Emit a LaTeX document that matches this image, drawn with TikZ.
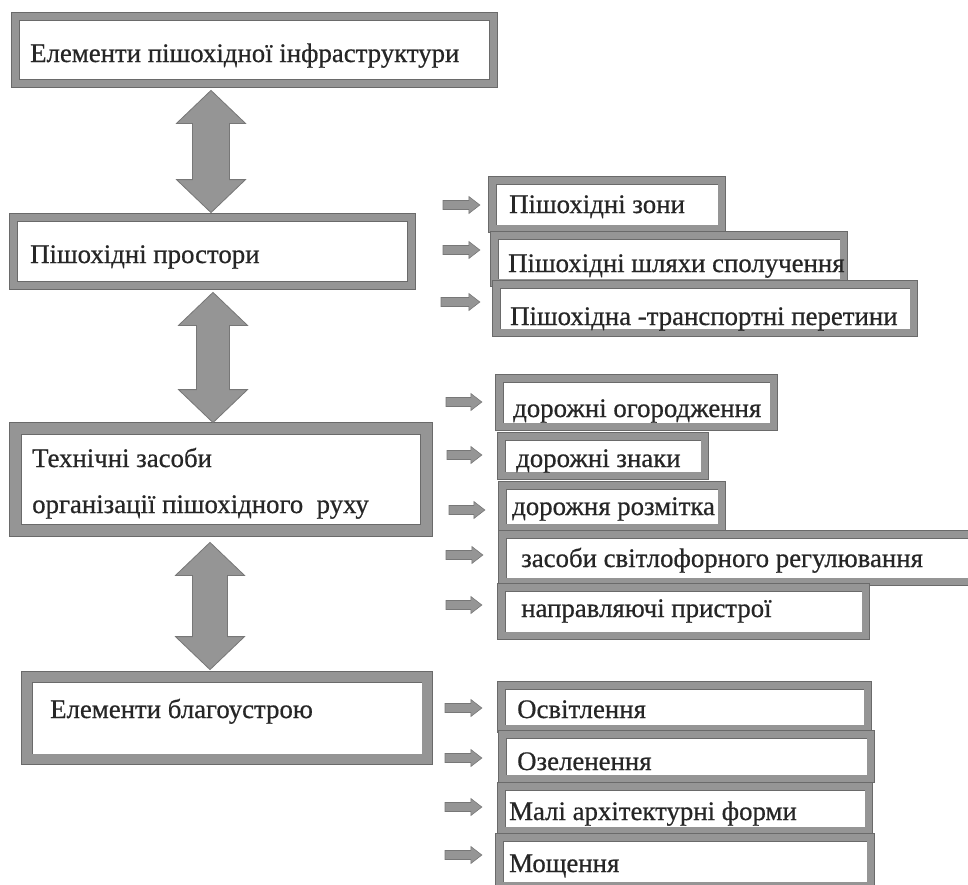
\documentclass[tikz,border=0pt]{standalone}
\usepackage{fontspec}
\setmainfont{Liberation Serif}[FakeBold=0.6]
\usetikzlibrary{calc}
\definecolor{framec}{HTML}{959595}
\definecolor{edgec}{HTML}{6A6A6A}
\definecolor{arrc}{HTML}{959595}
\definecolor{arredge}{HTML}{777777}
\newcommand\fs{\fontsize{26.8pt}{31pt}\selectfont}
\tikzset{
  mainbox/.style={draw=edgec, line width=0.8pt, double=framec, double distance=#1, fill=white, inner sep=0pt, rectangle},
  subbox/.style={draw=edgec, line width=0.8pt, double=framec, double distance=6.9pt, fill=white, inner sep=0pt, rectangle},
  lbl/.style={anchor=base west, inner sep=0pt, font=\fs, text=black!85},
  bigarr/.style={fill=arrc, draw=arredge, line width=0.8pt, line join=miter},
  smallarr/.style={fill=arrc, draw=arredge, line width=0.6pt, line join=miter}
}
% double arrow between two anchors: #1 x, #2 top anchor, #3 bottom anchor, #4 top offset, #5 bottom offset, #6 shaft half width
\newcommand\dblarr[6]{%
  \path[bigarr] let \p1=#2, \p2=#3, \p3=(#1,\y1-#4), \p4=(#1,\y2+#5) in
    (\x3,\y3) -- ({\x3+34.5pt},{\y3-33pt}) -- ({\x3+#6},{\y3-33pt}) -- ({\x3+#6},{\y4+33pt})
    -- ({\x3+34.5pt},{\y4+33pt}) -- (\x4,\y4) -- ({\x3-34.5pt},{\y4+33pt}) -- ({\x3-#6},{\y4+33pt})
    -- ({\x3-#6},{\y3-33pt}) -- ({\x3-34.5pt},{\y3-33pt}) -- cycle;}
% small block arrow from named tail coordinate to named tip coordinate
\newcommand\smarr[2]{%
  \path[smallarr] let \p1=(#1), \p2=(#2) in
    (\x1,{\y1+4.5pt}) -- ({\x2-11pt},{\y1+4.5pt}) -- ({\x2-11pt},{\y1+8.5pt}) -- (\x2,\y1)
    -- ({\x2-11pt},{\y1-8.5pt}) -- ({\x2-11pt},{\y1-4.5pt}) -- (\x1,{\y1-4.5pt}) -- cycle;}
\begin{document}
\begin{tikzpicture}[x=1pt,y=1pt]
\useasboundingbox (0,0) rectangle (968,-884);
\clip (0,0) rectangle (968,-884);
\fill[white] (0,0) rectangle (968,-884);

% main column
\node[mainbox=7.4pt, minimum width=478pt, minimum height=67pt] (b1) at (254.5,-50) {};
\node[lbl] (t1) at (30,-62) {Елементи пішохідної інфраструктури};
\node[mainbox=7.4pt, minimum width=398pt, minimum height=68pt] (b2) at (212.5,-251.5) {};
\node[lbl] (t2) at (30,-263) {Пішохідні простори};
\node[mainbox=11.4pt, minimum width=411pt, minimum height=102pt] (b3) at (221,-479.5) {};
\node[lbl] (t3a) at (32,-467) {Технічні засоби};
\node[lbl] (t3b) at (32,-513) {організації пішохідного\ \ руху};
\node[mainbox=9.9pt, minimum width=400.5pt, minimum height=82.5pt] (b4) at (227,-718) {};
\node[lbl] (t4) at (50,-718) {Елементи благоустрою};

\dblarr{211pt}{(b1.south)}{(b2.north)}{6.5pt}{4.5pt}{18.5pt}
\dblarr{213pt}{(b2.south)}{(b3.north)}{6.5pt}{5.5pt}{16.5pt}
\dblarr{210pt}{(b3.south)}{(b4.north)}{11.5pt}{6.75pt}{17.5pt}

% group 1
\node[subbox, minimum width=229.5pt, minimum height=48.5pt] (r1) at (607,-204.5) {};
\node[lbl] (u1) at (509,-213) {Пішохідні зони};
\node[subbox, minimum width=349.5pt, minimum height=47.5pt] (r2) at (669,-259) {};
\node[lbl] (u2) at (508,-272) {Пішохідні шляхи сполучення};
\node[subbox, minimum width=417.5pt, minimum height=48.5pt] (r3) at (705,-308.5) {};
\node[lbl] (u3) at (510,-325) {Пішохідна -транспортні перетини};

% group 2
\node[subbox, minimum width=274.5pt, minimum height=48.5pt] (r4) at (636.5,-402.5) {};
\node[lbl] (u4) at (513,-417) {дорожні огородження};
\node[subbox, minimum width=203.5pt, minimum height=39.5pt] (r5) at (603,-456) {};
\node[lbl] (u5) at (516,-467) {дорожні знаки};
\node[subbox, minimum width=219.5pt, minimum height=42.5pt] (r6) at (612,-506.5) {};
\node[lbl] (u6) at (512,-515) {дорожня розмітка};
\node[subbox, minimum width=483.5pt, minimum height=47.5pt] (r7) at (744,-558) {};
\node[lbl] (u7) at (521,-567) {засоби світлофорного регулювання};
\node[subbox, minimum width=364.5pt, minimum height=48.5pt] (r8) at (683.5,-611.5) {};
\node[lbl] (u8) at (521,-617) {направляючі пристрої};

% group 3
\node[subbox, minimum width=366.5pt, minimum height=43.5pt] (r9) at (684.5,-707) {};
\node[lbl] (u9) at (517,-718) {Освітлення};
\node[subbox, minimum width=368.5pt, minimum height=44.5pt] (r10) at (686.5,-756.5) {};
\node[lbl] (u10) at (517,-770) {Озеленення};
\node[subbox, minimum width=367.5pt, minimum height=44.5pt] (r11) at (685,-808.5) {};
\node[lbl] (u11) at (509,-820) {Малі архітектурні форми};
\node[subbox, minimum width=371.5pt, minimum height=48.5pt] (r12) at (685,-861.5) {};
\node[lbl] (u12) at (509,-872) {Мощення};

% small arrows: tails and tips
\coordinate (s1) at (443,-205);  \coordinate (e1) at ($(s1 -| r1.west)+(-12pt,0)$);
\coordinate (s2) at (443,-250);  \coordinate (e2) at ($(s2 -| r2.west)+(-14pt,0)$);
\coordinate (s3) at (441,-302);  \coordinate (e3) at ($(s3 -| r3.west)+(-16pt,0)$);
\coordinate (s4) at (446,-402);  \coordinate (e4) at ($(s4 -| r4.west)+(-17pt,0)$);
\coordinate (s5) at (447,-455);  \coordinate (e5) at ($(s5 -| r5.west)+(-19pt,0)$);
\coordinate (s6) at (449,-510);  \coordinate (e6) at ($(s6 -| r6.west)+(-17pt,0)$);
\coordinate (s7) at (446,-555);  \coordinate (e7) at ($(s7 -| r7.west)+(-19pt,0)$);
\coordinate (s8) at (446,-605);  \coordinate (e8) at ($(s8 -| r8.west)+(-19pt,0)$);
\coordinate (s9) at (445,-708);  \coordinate (e9) at ($(s9 -| r9.west)+(-19pt,0)$);
\coordinate (s10) at (445,-758); \coordinate (e10) at ($(s10 -| r10.west)+(-20pt,0)$);
\coordinate (s11) at (445,-807); \coordinate (e11) at ($(s11 -| r11.west)+(-19pt,0)$);
\coordinate (s12) at (445,-855); \coordinate (e12) at ($(s12 -| r12.west)+(-17pt,0)$);
\foreach \i in {1,...,12} {\smarr{s\i}{e\i}}
\end{tikzpicture}
\end{document}
